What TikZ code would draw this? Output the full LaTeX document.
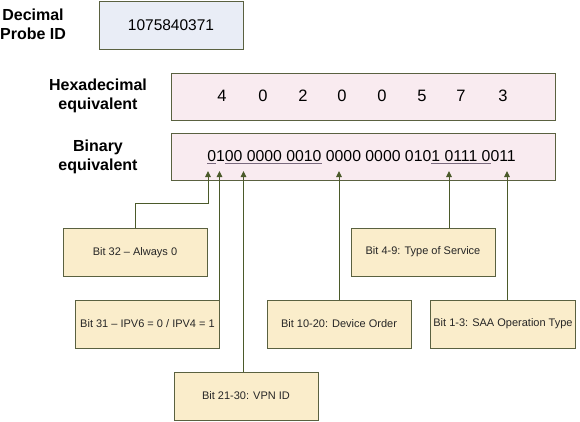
\documentclass[tikz,border=0pt]{standalone}
\usepackage{fontspec}
\setmainfont{Liberation Sans}
\usetikzlibrary{arrows.meta}

\definecolor{decfill}{HTML}{E9EDF6}
\definecolor{hexfill}{HTML}{F9EBF0}
\definecolor{bitfill}{HTML}{FAEDCB}
\definecolor{edgecol}{HTML}{5A6140}
\definecolor{arrcol}{HTML}{4B5A2A}
\definecolor{ulcol}{HTML}{7A6A7E}
\newcommand{\bitul}[1]{\textcolor{ulcol}{\underline{\textcolor{black}{#1}}}}

\begin{document}
\begin{tikzpicture}[x=1pt, y=-1pt]
  \tikzstyle{lbl}=[align=center, inner sep=0pt, font=\fontsize{16}{19}\selectfont\bfseries]
  \tikzstyle{wide}=[draw=edgecol, line width=1pt, minimum width=384pt, minimum height=47pt, fill=hexfill]
  \tikzstyle{digit}=[inner sep=0pt, font=\fontsize{16.5}{19}\selectfont]
  \tikzstyle{bitbox}=[draw=edgecol, line width=1pt, minimum width=144pt, minimum height=48pt,
                      fill=bitfill, text=black!85, font=\fontsize{11}{13}\selectfont]
  \tikzstyle{arr}=[draw=arrcol, line width=1pt, -{Triangle[length=6pt, width=5.5pt]}]

  \useasboundingbox (0,0) rectangle (580,421);

  % labels on the left
  \node[lbl] (declbl) at (33,24)  {Decimal\\Probe ID};
  \node[lbl] (hexlbl) at (98,96)  {Hexadecimal\\equivalent};
  \node[lbl] (binlbl) at (98,157) {Binary\\equivalent};

  % value boxes
  \node[draw=edgecol, line width=1pt, fill=decfill, minimum width=144pt, minimum height=48pt,
        font=\fontsize{15.5}{18}\selectfont] (dec) at (171,25) {1075840371};
  \node[wide] (hex) at (363.5,96.5) {};
  \node[wide] (bin) at (363.5,156.5) {};

  \node[digit] (h1) at (222,96) {4};
  \node[digit] (h2) at (263,96) {0};
  \node[digit] (h3) at (303,96) {2};
  \node[digit] (h4) at (342,96) {0};
  \node[digit] (h5) at (382,96) {0};
  \node[digit] (h6) at (422,96) {5};
  \node[digit] (h7) at (461,96) {7};
  \node[digit] (h8) at (503,96) {3};

  \node[inner sep=0pt, font=\fontsize{15.8}{19}\selectfont] (bits) at (361.5,157)
    {\bitul{0}1\bitul{00 0000 0010} 0000 0000 010\bitul{1 0111 0}011};

  % arrow tips under the bits
  \coordinate (t32) at (208,171);
  \coordinate (t31) at (219.5,171);
  \coordinate (t21) at (243.5,171);
  \coordinate (t10) at (339,171);
  \coordinate (t4)  at (449,171);
  \coordinate (t1)  at (507,171);

  % field boxes
  \node[bitbox] (b32) at (135,252.5) {Bit 32 -- Always 0};
  \node[bitbox] (b31) at (147.5,324) {Bit 31 -- IPV6 = 0 / IPV4 = 1};
  \node[bitbox] (b21) at (246,396)   {Bit 21-30: VPN ID};
  \node[bitbox] (b10) at (339,324)   {Bit 10-20: Device Order};
  \node[bitbox] (b4)  at (423,252)   {Bit 4-9: Type of Service};
  \node[bitbox] (b1)  at (503,324)   {Bit 1-3: SAA Operation Type};

  \draw[arr] (b32.north) -- ++(0,-25) -| (t32);
  \draw[arr] (t31 |- b31.north) -- (t31);
  \draw[arr] (t21 |- b21.north) -- (t21);
  \draw[arr] (b10.north) -- (t10);
  \draw[arr] (t4 |- b4.north) -- (t4);
  \draw[arr] (t1 |- b1.north) -- (t1);
\end{tikzpicture}
\end{document}
